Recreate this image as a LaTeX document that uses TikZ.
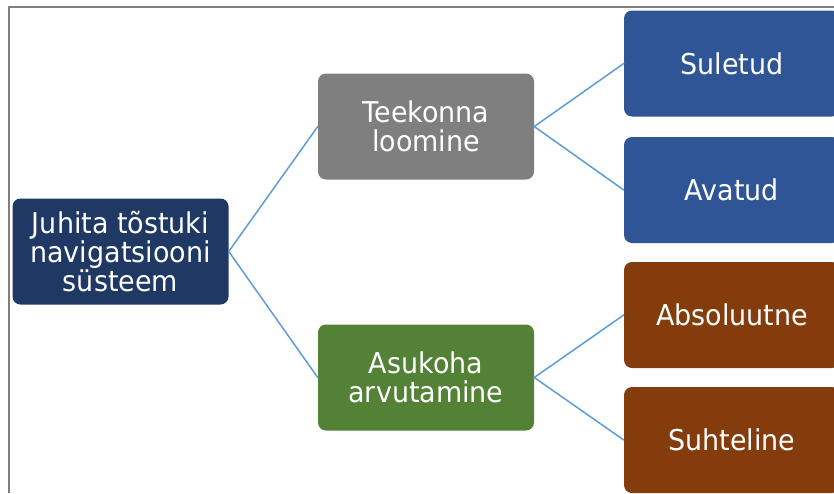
\documentclass[tikz,border=0pt]{standalone}
\usepackage{fontspec}
\setmainfont{DejaVu Sans}[FakeStretch=0.94]
\definecolor{juurvarv}{HTML}{203864}
\definecolor{hallvarv}{HTML}{7F7F7F}
\definecolor{rohevarv}{HTML}{538135}
\definecolor{sinivarv}{HTML}{2F5597}
\definecolor{pruunvarv}{HTML}{843C0C}
\definecolor{joonvarv}{HTML}{5B9BD5}
\begin{document}
\begin{tikzpicture}[x=0.75pt,y=-0.75pt,line cap=round,line join=round,
  kast/.style={rounded corners=6pt,minimum width=162pt,minimum height=79.5pt,
    inner sep=0pt,align=center,text=white,
    font=\fontsize{21.5}{21.75}\selectfont},
  haru/.style={draw=joonvarv,line width=1.1pt}]

\def\W{834}
\def\H{493}

\useasboundingbox (0,0) rectangle (\W,\H);

% raam
\draw[hallvarv,line width=2pt,line cap=butt] (9,\H) -- (9,7) -- (\W,7);

% kastid
\node[kast,fill=juurvarv]  (juur)  at (120.5,251.5) {Juhita tõstuki\\navigatsiooni\\süsteem};
\node[kast,fill=hallvarv]  (teek)  at (426,126.5)   {Teekonna\\loomine};
\node[kast,fill=rohevarv]  (asuk)  at (426,377.5)   {Asukoha\\arvutamine};
\node[kast,fill=sinivarv]  (sul)   at (732,63.5)    {Suletud};
\node[kast,fill=sinivarv]  (ava)   at (732,190)     {Avatud};
\node[kast,fill=pruunvarv] (abs)   at (732,315)     {Absoluutne};
\node[kast,fill=pruunvarv] (suht)  at (732,440)     {Suhteline};

% harud
\draw[haru] (juur.east) -- (teek.west);
\draw[haru] (juur.east) -- (asuk.west);
\draw[haru] (teek.east) -- (sul.west);
\draw[haru] (teek.east) -- (ava.west);
\draw[haru] (asuk.east) -- (abs.west);
\draw[haru] (asuk.east) -- (suht.west);

\end{tikzpicture}
\end{document}
